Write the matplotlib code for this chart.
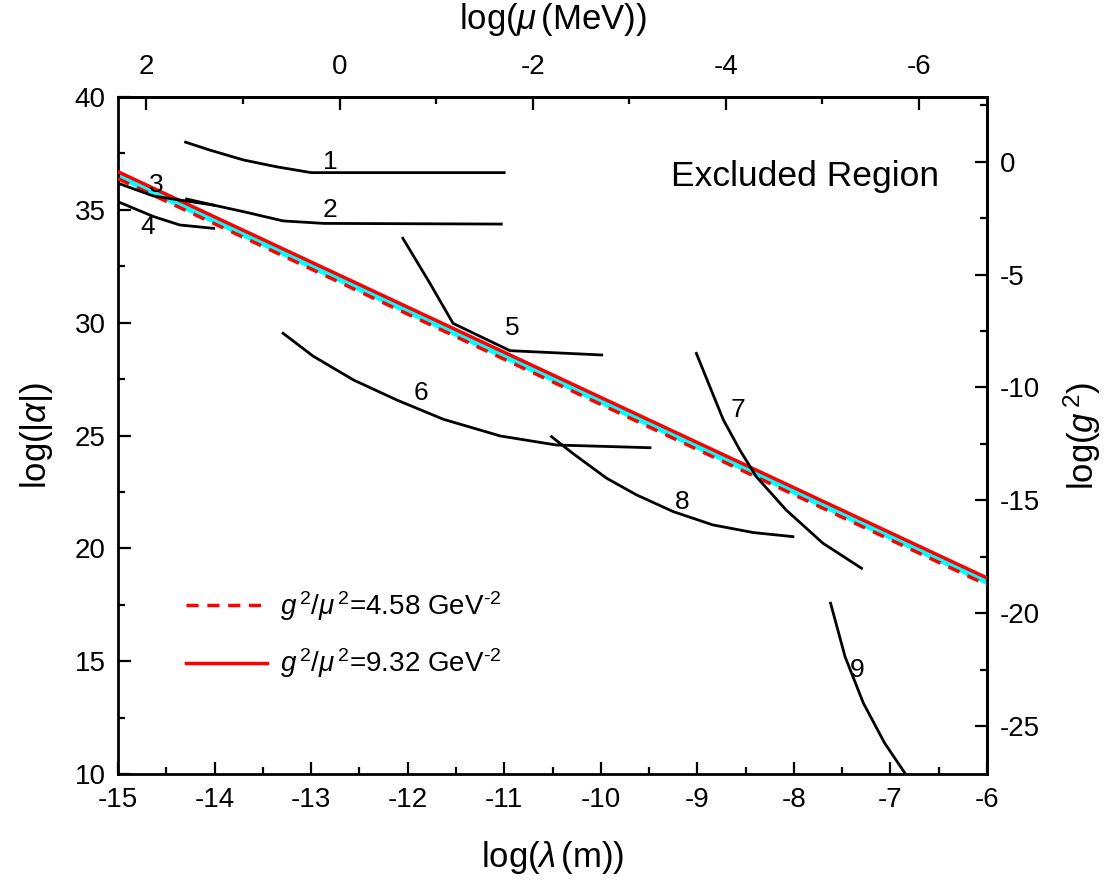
import numpy as np
import matplotlib
matplotlib.use("Agg")
import matplotlib.pyplot as plt
from matplotlib.ticker import MultipleLocator, FixedLocator, FuncFormatter

plt.rcParams['font.family'] = ['Liberation Sans', 'DejaVu Sans']
plt.rcParams['mathtext.fontset'] = 'custom'
plt.rcParams['mathtext.rm'] = 'Liberation Sans'
plt.rcParams['mathtext.it'] = 'Liberation Sans:italic'
plt.rcParams['mathtext.bf'] = 'Liberation Sans:bold'

# ---- data (log lambda [m], log |alpha|) ----
c1_x = [-14.30, -14.05, -13.70, -13.36, -13.00, -11.00]
c1_y = [38.00, 37.65, 37.21, 36.91, 36.65, 36.65]
c2_x = [-14.29, -14.01, -13.70, -13.29, -12.87, -11.03]
c2_y = [35.48, 35.21, 34.92, 34.51, 34.40, 34.37]
c3_x = [-15.00, -14.63, -14.32, -14.01]
c3_y = [36.18, 35.61, 35.41, 35.21]
c4_x = [-15.00, -14.63, -14.36, -14.01]
c4_y = [35.36, 34.70, 34.33, 34.18]
c5_x = [-12.05, -11.77, -11.53, -10.94, -9.99]
c5_y = [33.74, 31.75, 29.97, 28.76, 28.57]
c6_x = [-13.29, -12.98, -12.56, -12.11, -11.63, -11.04, -10.46, -9.49]
c6_y = [29.53, 28.52, 27.46, 26.57, 25.72, 24.98, 24.58, 24.46]
c7_x = [-9.01, -8.87, -8.73, -8.56, -8.39, -8.08, -7.70, -7.30]
c7_y = [28.64, 27.16, 25.69, 24.36, 23.18, 21.70, 20.23, 19.12]
c8_x = [-10.51, -10.29, -9.94, -9.63, -9.25, -8.84, -8.42, -8.01]
c8_y = [24.95, 24.21, 23.11, 22.37, 21.63, 21.04, 20.70, 20.52]
c9_x = [-7.62, -7.47, -7.28, -7.06, -6.85]
c9_y = [17.57, 15.20, 13.14, 11.37, 10.04]

curves_x = [c1_x, c2_x, c3_x, c4_x, c5_x, c6_x, c7_x, c8_x, c9_x]
curves_y = [c1_y, c2_y, c3_y, c4_y, c5_y, c6_y, c7_y, c8_y, c9_y]

label_names = ['1', '2', '3', '4', '5', '6', '7', '8', '9']
label_x = [-12.80, -12.80, -14.60, -14.69, -10.92, -11.86, -8.58, -9.16, -7.34]
label_y = [37.10, 35.00, 36.10, 34.24, 29.77, 26.89, 26.13, 22.06, 14.61]

# bound lines: g^2/mu^2 constant (GeV^-2)
bound_vals = [4.58, 9.32]
lam_ends = [-15.0, -6.0]
LOG_HBARC = -12.705   # log10(hbar c in MeV m)
ALPHA_OFF = 37.13     # log|alpha| - log g^2

x_ticks = [-15, -14, -13, -12, -11, -10, -9, -8, -7, -6]
y_ticks = [10, 15, 20, 25, 30, 35, 40]
top_ticks = [2, 0, -2, -4, -6]
top_minor = [1, -1, -3, -5]
right_ticks = [0, -5, -10, -15, -20, -25]
right_minor = [2.5, -2.5, -7.5, -12.5, -17.5, -22.5]


def bound_line(k, lam):
    lam = np.asarray(lam, dtype=float)
    log_mu_gev = (LOG_HBARC - lam) - 3.0
    log_g2 = np.log10(k) + 2 * log_mu_gev
    return log_g2 + ALPHA_OFF


fig = plt.figure(figsize=(11.07, 8.82), dpi=100)
ax = fig.add_axes([0.1066, 0.1224, 0.7850, 0.7676])

lam = np.array(lam_ends)
y_lo = bound_line(bound_vals[0], lam)
y_hi = bound_line(bound_vals[1], lam)
ax.fill_between(lam, y_lo, y_hi, color='#00FFFF', lw=0, zorder=2)
ax.plot(lam, y_lo, color='red', lw=2.5, ls=(0, (3.5, 2.5)), zorder=3,
        label=r'$g^{\,2}/\mu^{\,2}$=4.58 GeV$^{\text{-2}}$')
ax.plot(lam, y_hi, color='red', lw=2.5, ls='-', zorder=3,
        label=r'$g^{\,2}/\mu^{\,2}$=9.32 GeV$^{\text{-2}}$')

for cx, cy in zip(curves_x, curves_y):
    ax.plot(cx, cy, color='black', lw=2.0, zorder=4)

for n, lx, ly in zip(label_names, label_x, label_y):
    ax.text(lx, ly, n, fontsize=19, ha='center', va='center', zorder=5)

ax.text(-7.885, 36.46, 'Excluded Region', fontsize=25.5, ha='center', va='center')

ax.set_xlim(-15, -6)
ax.set_ylim(10, 40)
ax.xaxis.set_major_locator(FixedLocator(x_ticks))
ax.xaxis.set_minor_locator(MultipleLocator(0.5))
ax.yaxis.set_major_locator(FixedLocator(y_ticks))
ax.yaxis.set_minor_locator(MultipleLocator(2.5))
ax.tick_params(which='both', direction='in', width=1.6, labelsize=20)
ax.tick_params(which='major', length=9, pad=9)
ax.tick_params(which='minor', length=5)
for s in ax.spines.values():
    s.set_linewidth(2.0)

ax.set_xlabel(r'log($\lambda\,$(m))', fontsize=25, labelpad=19)
ax.set_ylabel(r'log(|$\alpha$|)', fontsize=25, labelpad=14)

top = ax.secondary_xaxis('top', functions=(lambda x: LOG_HBARC - x, lambda m: LOG_HBARC - m))
top.xaxis.set_major_locator(FixedLocator(top_ticks))
top.xaxis.set_minor_locator(FixedLocator(top_minor))
top.tick_params(which='both', direction='in', width=1.6, labelsize=20)
top.tick_params(which='major', length=9, pad=12)
top.tick_params(which='minor', length=5)
top.set_xlabel(r'log($\mu\,$(MeV))', fontsize=25, labelpad=18)
top.spines['top'].set_linewidth(2.0)

right = ax.secondary_yaxis('right', functions=(lambda y: y - ALPHA_OFF, lambda g: g + ALPHA_OFF))
right.yaxis.set_major_locator(FixedLocator(right_ticks))
right.yaxis.set_minor_locator(FixedLocator(right_minor))
right.tick_params(which='both', direction='in', width=1.6, labelsize=20)
right.tick_params(which='major', length=9, pad=9)
right.tick_params(which='minor', length=5)
right.set_ylabel(r'log($g^{\,2}$)', fontsize=25, labelpad=16)
right.spines['right'].set_linewidth(2.0)


def fmt(v, pos):
    return ('%g' % v).replace('\u2212', '-')


for axis in (ax.xaxis, ax.yaxis, top.xaxis, right.yaxis):
    axis.set_major_formatter(FuncFormatter(fmt))

ax.legend(loc='upper left', bbox_to_anchor=(0.05, 0.31), frameon=False,
          fontsize=20, handlelength=2.9, handletextpad=0.45, labelspacing=0.85)

fig.savefig('out.png', dpi=100)
